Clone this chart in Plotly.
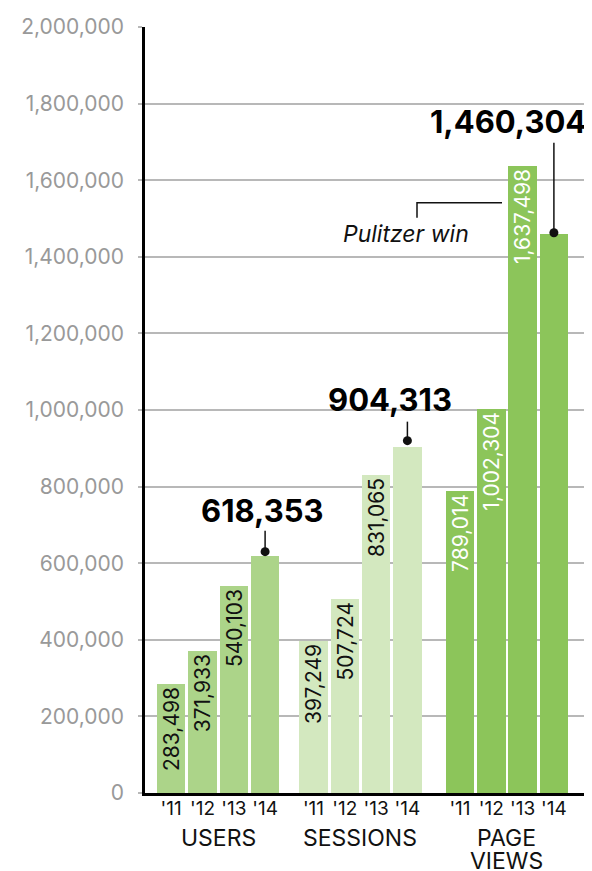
import plotly.graph_objects as go

# ---- data ----
groups = ["USERS", "SESSIONS", "PAGE<br>VIEWS"]
years = ["'11", "'12", "'13", "'14"]
users = [283498, 371933, 540103, 618353]
sessions = [397249, 507724, 831065, 904313]
page_views = [789014, 1002304, 1637498, 1460304]
series = [users, sessions, page_views]
y_ticks = [0, 200000, 400000, 600000, 800000, 1000000, 1200000, 1400000, 1600000, 1800000, 2000000]

# ---- style / layout constants ----
colors = ["#acd489", "#d3e8bf", "#8cc55a"]
text_colors = ["#111111", "#111111", "#ffffff"]
# the page has an 8px body margin; axis units on x = page px
group_left = [171.2, 313.5, 460.0]   # x of first bar centre per group
bar_step = 31.3
bar_width = 28.5
FONT = "Inter"

fig = go.Figure()
all_x, all_t = [], []
for g, vals in enumerate(series):
    xs = [group_left[g] + i * bar_step for i in range(len(vals))]
    all_x += xs
    all_t += years
    txt = [f"{v:,}" for v in vals[:-1]] + [""]
    fig.add_trace(go.Bar(
        x=xs, y=vals, width=bar_width, marker=dict(color=colors[g], line=dict(width=0)),
        text=txt, textposition="inside", insidetextanchor="end", textangle=-90,
        textfont=dict(family=FONT, size=21, color=text_colors[g]),
        hoverinfo="skip", showlegend=False, cliponaxis=False,
    ))

# highlighted '14 values
highlights = [
    # (group, dot_offset_px, line_top_px, text_offset_px, text_dx)
    (0, 4.5, 25.5, 45.5, -2.5),
    (1, 6.0, 25.0, 47.0, -17.0),
    (2, 1.0, 91.0, 112.0, -45.5),
]
for g, dot_off, line_top, txt_off, dx in highlights:
    x = group_left[g] + 3 * bar_step
    v = series[g][3]
    fig.add_shape(type="line", xref="x", yref="y", ysizemode="pixel", yanchor=v,
                  x0=x, x1=x, y0=dot_off, y1=line_top, line=dict(color="#111111", width=1.5))
    fig.add_shape(type="circle", xref="x", yref="y", xsizemode="pixel", ysizemode="pixel",
                  xanchor=x, yanchor=v, x0=-4.5, x1=4.5, y0=dot_off - 4.5, y1=dot_off + 4.5,
                  fillcolor="#111111", line=dict(color="#111111", width=0))
    fig.add_annotation(x=x + dx, y=v, yshift=txt_off, xref="x", yref="y", showarrow=False,
                       text=f"<b>{v:,}</b>", xanchor="center", yanchor="middle",
                       font=dict(family=FONT, size=31, color="#000000", weight=900))

# Pulitzer note
pv14 = page_views[3]
note_x = 417.0
note_x2 = 502.0
fig.add_shape(type="path", xref="x", yref="y", ysizemode="pixel", yanchor=pv14,
              path=f"M {note_x},16 L {note_x},31 L {note_x2},31",
              line=dict(color="#111111", width=1.5))
fig.add_annotation(x=406, y=pv14, xref="x", yref="y", showarrow=False, text="<i>Pulitzer win</i>",
                   xanchor="center", yanchor="middle",
                   font=dict(family=FONT, size=23, color="#111111"))

# group labels (each line placed separately for tight line spacing)
for g in range(3):
    xc = group_left[g] + 1.5 * bar_step
    for k, line in enumerate(groups[g].split("<br>")):
        fig.add_annotation(x=xc, y=0, xref="x", yref="y", yshift=-45 - 23 * k, showarrow=False,
                           text=line, xanchor="center", yanchor="middle",
                           font=dict(family=FONT, size=23, color="#111111"))

fig.update_layout(
    width=584, height=863,
    margin=dict(l=137, r=6, t=16, b=78),
    plot_bgcolor="white", paper_bgcolor="white",
    bargap=0,
    xaxis=dict(range=[145, 586], showgrid=False, zeroline=False,
               showline=True, linecolor="#000000", linewidth=2.5,
               tickmode="array", tickvals=all_x, ticktext=all_t, ticks="",
               ticklabelstandoff=-4,
               tickfont=dict(family=FONT, size=19, color="#111111")),
    yaxis=dict(range=[0, 2000000], tickvals=y_ticks, tickformat=",d",
               showgrid=True, gridcolor="#b8b8b8", gridwidth=1.5, zeroline=False,
               showline=True, linecolor="#000000", linewidth=2.5,
               ticks="outside", ticklen=4, tickcolor="#b8b8b8", tickwidth=1.5,
               ticklabelstandoff=10,
               tickfont=dict(family=FONT, size=21, color="#999999")),
    uniformtext=dict(mode="show", minsize=21),
)

fig.write_html("out.html")
